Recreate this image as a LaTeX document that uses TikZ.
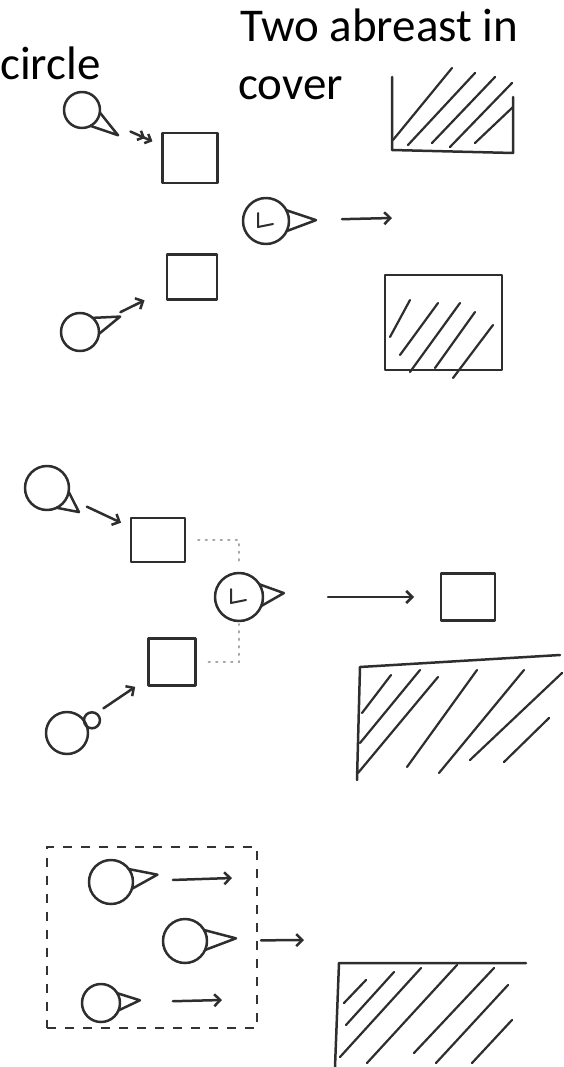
\documentclass[tikz,border=0pt]{standalone}
\usepackage{fontspec}
\setmainfont{Carlito}
\usetikzlibrary{arrows.meta,calc}

% A soldier: circle with a pointed nose showing the heading.
% #1 name, #2 x, #3 y, #4 radius, #5 heading (degrees, y axis points down), #6 nose length
\newcommand\fighter[6]{%
  \node[man, minimum size=2*#4] (#1) at (#2,#3) {};
  \draw[ink] ($(#1)+(#5+27:#4)$) -- ($(#1)+(#5:#6)$) -- ($(#1)+(#5-27:#4)$);
}
% Leader mark drawn inside a soldier's circle
\newcommand\leadmark[1]{%
  \draw[ink, line width=2pt] ($(#1)+(-8,-8)$) -- ($(#1)+(-8,6)$) -- ($(#1)+(7,3)$);
}

\begin{document}
\begin{tikzpicture}[x=1pt, y=-1pt,
  ink/.style={draw=black!82, line width=2.5pt, line cap=round, line join=round},
  man/.style={ink, circle, inner sep=0pt, outer sep=0pt},
  post/.style={ink, rectangle, inner sep=0pt, outer sep=0pt},
  move/.style={ink, -{Straight Barb[length=6pt,width=12pt]}},
  move2/.style={ink, -{Straight Barb[length=5pt,width=10pt]Straight Barb[length=5pt,width=10pt]}},
  dots/.style={draw=black!35, line width=2pt, dash pattern=on 1.5pt off 6pt, line cap=round},
  group/.style={draw=black!80, line width=2pt, dash pattern=on 9pt off 9pt, inner sep=0pt},
  hatch/.style={draw=black!82, line width=2.2pt, line cap=round},
  label/.style={font=\fontsize{47}{50}\selectfont, inner sep=0pt, text=black}
]
\useasboundingbox (0,0) rectangle (563,1067);
\clip (0,0) rectangle (563,1067);

% ---- titles ----
\node[label, anchor=base west] (t0) at (0,80) {circle};
\node[label, anchor=base west] (t1) at (240,42) {Two abreast in};
\node[label, anchor=base west] (t2) at (238,100) {cover};

% ---- two abreast in cover ----
\fighter{s1}{82}{110}{18}{35}{44}
\fighter{s2}{80}{332}{19}{-21}{43}
\fighter{l1}{266}{221}{23}{-1}{50}
\leadmark{l1}
\node[post, minimum width=55, minimum height=50] (q1) at (190,158) {};
\node[post, minimum width=50, minimum height=45] (q2) at (192,277) {};
\coordinate (a1) at (392,218);
\draw[move2, shorten <=35, shorten >=11] (s1) -- (q1);
\draw[move, shorten <=26, shorten >=25] (s2) -- (q2);
\draw[move, shorten <=53] (l1) -- (a1);

% cover, open at the top
\draw[ink] (392,77) -- (392,150) -- (513,153) -- (513,97);
\draw[hatch] (393,140) -- (452,68)  (408,145) -- (475,73)  (432,143) -- (495,77)
             (450,147) -- (512,83)  (475,143) -- (513,107);
% closed cover
\draw[ink] (385,275) rectangle (502,370);
\draw[hatch] (390,337) -- (410,300)  (400,355) -- (438,303)  (410,372) -- (460,303)
             (435,368) -- (475,312)  (453,378) -- (493,325);

% ---- leader ahead, two behind ----
\fighter{s3}{47}{488}{22}{37}{40}
\fighter{l2}{239}{597}{24}{-5}{45}
\leadmark{l2}
\node[man, minimum size=42] (s4) at (67,733) {};
\draw[ink] ($(s4)+(-27:28)$) circle (8);
\node[post, minimum width=54, minimum height=44] (q3) at (158,540) {};
\node[post, minimum width=47, minimum height=47] (q4) at (172,662) {};
\node[post, minimum width=54, minimum height=47] (q5) at (468,597) {};
\draw[move, shorten <=22, shorten >=11] (s3) -- (q3);
\draw[move, shorten <=23, shorten >=16] (s4) -- (q4);
\draw[move, shorten <=65, shorten >=27] (l2) -- (q5);
\draw[dots, shorten <=13, shorten >=10] (q3) -| (l2);
\draw[dots, shorten <=13, shorten >=3] (q4) -| (l2);

\draw[ink] (560,655) -- (360,667) -- (357,780);
\draw[hatch] (362,713) -- (391,675)  (360,743) -- (420,670)  (358,773) -- (438,677)
             (407,767) -- (477,670)  (439,773) -- (524,670)  (470,760) -- (562,673)
             (504,762) -- (549,718);

% ---- group of three ----
\node[group, minimum width=210, minimum height=181] (grp) at (152,937) {};
\fighter{p1}{111}{882}{22}{-9}{47}
\fighter{p2}{185}{941}{22}{-3}{51}
\fighter{p3}{101}{1003}{19}{-4}{39}
\coordinate (g1) at (232,878);
\coordinate (g2) at (304,940);
\coordinate (g3) at (222,1000);
\draw[move, shorten <=40] (p1) -- (g1);
\draw[move, shorten <=54] (p2) -- (g2);
\draw[move, shorten <=53] (p3) -- (g3);

\draw[ink] (526,963) -- (339,963) -- (335,1067);
\draw[hatch] (344,1003) -- (366,980)  (346,1025) -- (394,972)  (340,1057) -- (421,968)
             (367,1063) -- (457,965)  (414,1053) -- (494,968)  (436,1063) -- (508,985)
             (472,1063) -- (512,1020);
\end{tikzpicture}
\end{document}
